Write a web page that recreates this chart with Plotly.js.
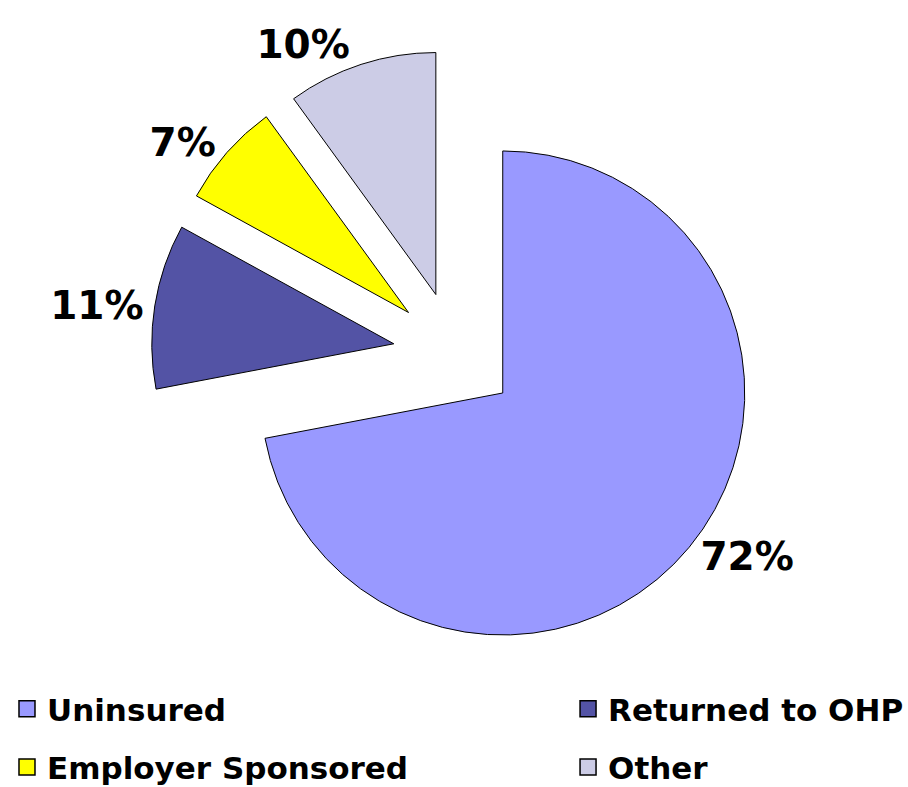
<!DOCTYPE html>
<html>
<head>
<meta charset="utf-8">
<script src="https://cdn.plot.ly/plotly-3.0.1.min.js"></script>
<style>html,body{margin:0;padding:0;background:#fff;overflow:hidden;}#chart{width:908px;height:787px;}</style>
</head>
<body>
<div id="chart"></div>
<script>
const categories = ["Uninsured", "Returned to OHP", "Employer Sponsored", "Other"];
const shares = [72, 11, 7, 10];
const sliceColors = ["#9999FF", "#5353A5", "#FFFF00", "#CCCCE6"];
const pulls = [0.256, 0.256, 0.256, 0.256];
// legend column for each category (reference shows a 2-column legend)
const legendColumn = ["legend", "legend2", "legend", "legend2"];

const FONT = "DejaVu Sans, Verdana, sans-serif";

const data = [{
  type: "pie",
  labels: categories,
  values: shares,
  sort: false,
  direction: "clockwise",
  rotation: 0,
  pull: pulls,
  marker: {colors: sliceColors, line: {color: "#000000", width: 1}},
  textinfo: "percent",
  texttemplate: "%{percent:.0%}",
  textposition: "outside",
  outsidetextfont: {family: FONT, size: 39, color: "#000000", weight: "bold"},
  showlegend: false,
  domain: {x: [0.1663, 0.8359], y: [0.1646, 0.9371]}
}];

categories.forEach((name, i) => {
  data.push({
    type: "scatter",
    mode: "markers",
    x: [null],
    y: [null],
    name: name,
    legend: legendColumn[i],
    legendgroup: "g" + i,
    showlegend: true,
    hoverinfo: "skip",
    marker: {symbol: "square", size: 16, color: sliceColors[i], line: {color: "#000000", width: 1.5}}
  });
});

const legendBase = {
  orientation: "v",
  xanchor: "left",
  y: 0.1334,
  yanchor: "top",
  traceorder: "grouped",
  tracegroupgap: 15,
  font: {family: FONT, size: 31, color: "#000000", weight: "bold"},
  bgcolor: "rgba(0,0,0,0)",
  itemclick: false,
  itemdoubleclick: false
};

const layout = {
  width: 908,
  height: 787,
  margin: {l: 0, r: 0, t: 0, b: 0, autoexpand: false},
  paper_bgcolor: "#ffffff",
  plot_bgcolor: "rgba(0,0,0,0)",
  showlegend: true,
  hovermode: false,
  xaxis: {visible: false},
  yaxis: {visible: false},
  legend: Object.assign({}, legendBase, {x: 0.0077}),
  legend2: Object.assign({}, legendBase, {x: 0.6256})
};

Plotly.newPlot("chart", data, layout, {displayModeBar: false, staticPlot: true});
</script>
</body>
</html>
